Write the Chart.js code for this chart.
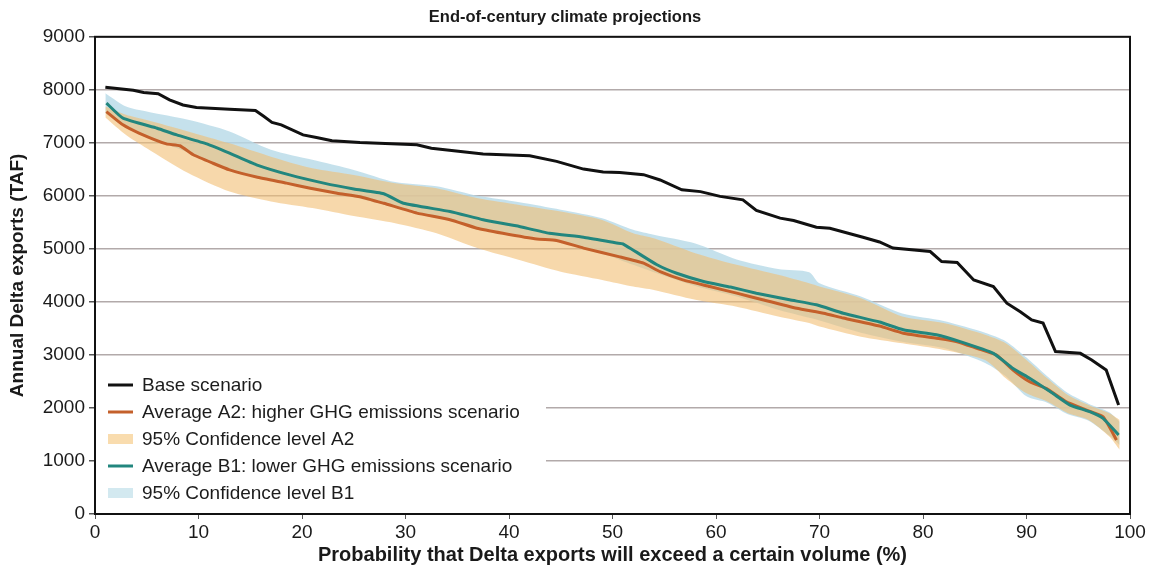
<!DOCTYPE html>
<html>
<head>
<meta charset="utf-8">
<script src="https://cdn.jsdelivr.net/npm/chart.js@4.4.1/dist/chart.umd.min.js"></script>
<style>
  html, body { margin: 0; padding: 0; background: #ffffff; }
  #wrap { width: 1156px; height: 575px; position: relative; }
</style>
</head>
<body>
<div id="wrap"><canvas id="chart" width="1156" height="575"></canvas></div>
<script>
// Exceedance probability (%) and annual Delta exports (TAF)
const baseX = [1,3.7,4.7,6.1,7.2,8.5,9.8,13,15.5,16.3,17.1,18,20.1,21.4,22.9,25.6,31.1,32.5,37.5,42,44.6,47.2,49.1,50.7,53,54.6,56.7,58.5,60.4,62.6,63.9,66.2,67.5,69.7,71,74.2,75.8,77.1,80.7,81.8,83.3,84.9,86.8,88.1,89.4,90.5,91.6,92.8,95.2,96.3,97.7,98.9];
const baseY = [8050,7990,7950,7925,7810,7715,7665,7635,7610,7500,7385,7340,7150,7100,7040,7005,6965,6900,6790,6755,6650,6505,6450,6440,6400,6300,6115,6080,5990,5925,5725,5580,5535,5410,5390,5220,5130,5015,4950,4760,4745,4415,4290,3975,3815,3660,3600,3065,3030,2905,2715,2055];

const a2X = [1.1,2.7,4.3,6.9,8.2,9.5,11.4,13,15.6,18.5,20.8,23.4,25.6,27.9,31.1,34.3,36.9,39.4,42.7,44.6,47.2,50.7,53,54.6,56.8,59.4,62,64.5,67.8,70.4,72.3,75.8,78.1,81.3,83.3,85.2,87.1,88.7,90.3,91.9,93.8,95.8,97.4,98.7];
const a2Y = [7590,7340,7180,6980,6945,6775,6615,6490,6355,6240,6145,6050,5985,5860,5675,5550,5390,5295,5185,5160,5015,4850,4730,4570,4415,4290,4165,4040,3880,3785,3695,3545,3410,3315,3250,3125,3000,2715,2495,2370,2120,1960,1835,1395];

const b1X = [1.1,2.7,6,7.9,10.8,13,15.6,18.8,22.1,25,27.9,29.8,34.3,37.5,40.7,43.9,47.2,50.4,51,54.3,56.2,58.8,61.4,63.9,67.1,69.7,72.3,75.8,78.1,81.3,83.6,86.8,88.7,90.3,92.5,94.2,96.1,97.4,98.9];
const b1Y = [7750,7465,7275,7150,6980,6805,6585,6395,6240,6130,6040,5860,5705,5550,5435,5295,5220,5110,5095,4700,4540,4385,4280,4165,4040,3945,3785,3620,3475,3380,3250,3030,2745,2560,2280,2055,1930,1805,1490];

// 95% confidence envelopes
const bandX = [1,3,5,9,13,17,21,25,29,33,37,41,45,49,52,54,58,62,66,69,70,74,78,82,86,88,90,92,94,96,98,99];
const a2Upper = [7685,7530,7430,7215,6990,6740,6520,6395,6240,6145,5955,5830,5705,5547,5295,5200,4920,4700,4510,4350,4290,4070,3725,3600,3380,3220,2905,2560,2245,2055,1900,1775];
const a2Lower = [7480,7150,6900,6430,6080,5895,5770,5620,5485,5295,5010,4790,4570,4415,4290,4225,4040,3910,3725,3600,3535,3345,3220,3095,2905,2560,2275,2120,1900,1775,1460,1210];
const b1Upper = [7937,7685,7590,7434,7215,6870,6680,6490,6260,6180,6000,5880,5740,5580,5360,5265,5100,4800,4620,4560,4350,4100,3780,3640,3420,3260,2950,2600,2280,2080,1920,1740];
const b1Lower = [7560,7280,7120,6820,6500,6290,6130,5980,5780,5600,5410,5270,5150,4920,4700,4560,4300,4100,3850,3700,3650,3420,3250,3130,2850,2600,2220,2100,1880,1760,1480,1300];

const xTicks = [0,10,20,30,40,50,60,70,80,90,100];
const yTicks = [0,1000,2000,3000,4000,5000,6000,7000,8000,9000];

const FONT = "'Liberation Sans', Arial, Helvetica, sans-serif";
const COL_BASE = '#111111';
const COL_A2 = '#c4602b';
const COL_B1 = '#22867e';
const COL_A2_BAND = 'rgba(242,190,115,0.6)';
const COL_B1_BAND = 'rgba(182,218,231,0.8)';

const pts = (xs, ys) => xs.map((x, i) => ({ x: x, y: ys[i] }));

const lineStyle = { pointRadius: 0, pointHoverRadius: 0, tension: 0.15, fill: false };
const bandEdge = { pointRadius: 0, pointHoverRadius: 0, borderWidth: 0, tension: 0.25, borderColor: 'rgba(0,0,0,0)' };

const datasets = [
  Object.assign({ label: 'Base scenario', data: pts(baseX, baseY), borderColor: COL_BASE, borderWidth: 3, order: 0 }, lineStyle, { tension: 0 }),
  Object.assign({ label: 'Average A2: higher GHG emissions scenario', data: pts(a2X, a2Y), borderColor: COL_A2, borderWidth: 3, order: 2 }, lineStyle),
  Object.assign({ label: 'Average B1: lower GHG emissions scenario', data: pts(b1X, b1Y), borderColor: COL_B1, borderWidth: 3, order: 1 }, lineStyle),
  Object.assign({ label: '95% Confidence level A2', data: pts(bandX, a2Upper), backgroundColor: COL_A2_BAND, fill: '+1', order: 3 }, bandEdge),
  Object.assign({ label: 'A2 lower', data: pts(bandX, a2Lower), backgroundColor: COL_A2_BAND, fill: false, order: 3 }, bandEdge),
  Object.assign({ label: '95% Confidence level B1', data: pts(bandX, b1Upper), backgroundColor: COL_B1_BAND, fill: '+1', order: 4 }, bandEdge),
  Object.assign({ label: 'B1 lower', data: pts(bandX, b1Lower), backgroundColor: COL_B1_BAND, fill: false, order: 4 }, bandEdge)
];

// Legend entries drawn inside the plot, lower left
const legendEntries = [
  { label: 'Base scenario', kind: 'line', color: COL_BASE },
  { label: 'Average A2: higher GHG emissions scenario', kind: 'line', color: COL_A2 },
  { label: '95% Confidence level A2', kind: 'box', color: '#f9dcae' },
  { label: 'Average B1: lower GHG emissions scenario', kind: 'line', color: COL_B1 },
  { label: '95% Confidence level B1', kind: 'box', color: '#d3e9f0' }
];

const insideLegend = {
  id: 'insideLegend',
  afterDatasetsDraw(chart) {
    const { ctx, chartArea } = chart;
    const left = chartArea.left;
    const bottom = chartArea.bottom;
    ctx.save();
    ctx.fillStyle = '#ffffff';
    ctx.fillRect(left + 1, bottom - 146, 450, 144);
    ctx.font = '19px ' + FONT;
    ctx.textBaseline = 'middle';
    ctx.textAlign = 'left';
    legendEntries.forEach((e, i) => {
      const y = bottom - 129 + i * 27;
      if (e.kind === 'line') {
        ctx.strokeStyle = e.color;
        ctx.lineWidth = 3;
        ctx.beginPath();
        ctx.moveTo(left + 13, y);
        ctx.lineTo(left + 38, y);
        ctx.stroke();
      } else {
        ctx.fillStyle = e.color;
        ctx.fillRect(left + 13, y - 5, 25, 10);
      }
      ctx.fillStyle = '#1c1c1c';
      ctx.fillText(e.label, left + 47, y + 1);
    });
    ctx.restore();
  }
};

// Black frame around the plotting area
const plotFrame = {
  id: 'plotFrame',
  afterDraw(chart) {
    const { ctx, chartArea } = chart;
    ctx.save();
    ctx.strokeStyle = '#111111';
    ctx.lineWidth = 2;
    ctx.strokeRect(chartArea.left, chartArea.top, chartArea.right - chartArea.left, chartArea.bottom - chartArea.top);
    ctx.restore();
  }
};

new Chart(document.getElementById('chart'), {
  type: 'line',
  data: { datasets: datasets },
  options: {
    responsive: false,
    animation: false,
    events: [],
    layout: { padding: { top: 0, right: 26, bottom: 0, left: 0 } },
    plugins: {
      legend: { display: false },
      tooltip: { enabled: false },
      title: {
        display: true,
        text: 'End-of-century climate projections',
        color: '#1a1a1a',
        font: { family: FONT, size: 16.5, weight: 'bold' },
        padding: { top: 8, bottom: 9 }
      }
    },
    scales: {
      x: {
        type: 'linear',
        min: 0,
        max: 100,
        afterBuildTicks: (scale) => { scale.ticks = xTicks.map(v => ({ value: v })); },
        afterFit: (scale) => { scale.height = 61; },
        ticks: { color: '#1a1a1a', font: { family: FONT, size: 19 }, padding: 2, maxRotation: 0, callback: (v) => String(v) },
        grid: { display: true, drawOnChartArea: false, drawTicks: true, tickLength: 5, tickColor: '#555555' },
        border: { display: false },
        title: {
          display: true,
          text: 'Probability that Delta exports will exceed a certain volume (%)',
          color: '#1a1a1a',
          font: { family: FONT, size: 20, weight: 'bold' },
          padding: { top: 2, bottom: 8 }
        }
      },
      y: {
        type: 'linear',
        min: 0,
        max: 9000,
        afterBuildTicks: (scale) => { scale.ticks = yTicks.map(v => ({ value: v })); },
        afterFit: (scale) => { scale.width = 95; },
        ticks: { color: '#1a1a1a', font: { family: FONT, size: 19 }, padding: 4, callback: (v) => String(v) },
        grid: { color: '#b2aaaa', lineWidth: 1.5, tickLength: 6, tickColor: '#555555' },
        border: { display: false },
        title: {
          display: true,
          text: 'Annual Delta exports (TAF)',
          color: '#1a1a1a',
          font: { family: FONT, size: 19, weight: 'bold' },
          padding: { top: 6, bottom: 2 }
        }
      }
    }
  },
  plugins: [insideLegend, plotFrame]
});
</script>
</body>
</html>
